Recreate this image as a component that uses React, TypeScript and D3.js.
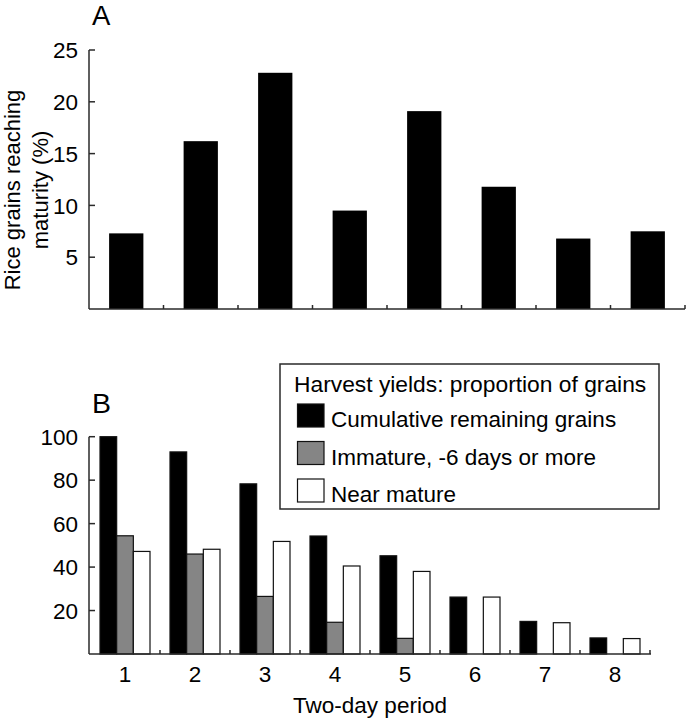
import React from "react";
import * as d3 from "d3";

const periods = ["1", "2", "3", "4", "5", "6", "7", "8"];
const maturityPct = [7.3, 16.2, 22.8, 9.5, 19.1, 11.8, 6.8, 7.5];
const topTicks = [5, 10, 15, 20, 25];

const seriesKeys = ["cumulative", "immature", "near"];
const seriesLabels = [
  "Cumulative remaining grains",
  "Immature, -6 days or more",
  "Near mature",
];
const seriesColors = ["#000000", "#858585", "#ffffff"];
const cumulative = [100, 93, 78.3, 54.3, 45.2, 26.2, 15.0, 7.4];
const immature = [54.4, 46, 26.5, 14.6, 7.2, 0, 0, 0];
const nearMature = [47.2, 48.2, 51.8, 40.5, 38.0, 26.2, 14.4, 7.1];
const bottomTicks = [20, 40, 60, 80, 100];
const legendTitle = "Harvest yields: proportion of grains";

const FONT = "'Liberation Sans', Arial, Helvetica, sans-serif";
const AX = "#2a2a2a";
const FS = 22.5;

export default function App() {
  // Panel A scales
  const xA = d3.scaleBand<string>().domain(periods).range([89, 685]).paddingInner(0.54).paddingOuter(0.27);
  const yA = d3.scaleLinear().domain([0, 25]).range([309, 50]);
  const stepA = xA.step();
  const startA = 89;

  // Panel B scales
  const xB = d3.scaleBand<string>().domain(periods).range([90, 650]).paddingInner(0.2857).paddingOuter(0.1429);
  const xInner = d3.scaleBand<string>().domain(seriesKeys).range([0, xB.bandwidth()]);
  const yB = d3.scaleLinear().domain([0, 100]).range([654, 436.7]);
  const stepB = xB.step();
  const startB = 90;
  const seriesData = [cumulative, immature, nearMature];

  return (
    <svg width={686} height={720} style={{ position: "absolute", left: 0, top: 0, background: "#fff" }} fontFamily={FONT}>
      <rect x={0} y={0} width={686} height={720} fill="#fff" />
      {/* Panel A */}
      <text x={92} y={25} fontSize={27.5} fill="#000">A</text>
      {periods.map((p, i) => (
        <rect key={"a" + p} x={xA(p)} y={yA(maturityPct[i])} width={xA.bandwidth()} height={yA(0) - yA(maturityPct[i])} fill="#000" />
      ))}
      <line x1={89} x2={89} y1={yA(25)} y2={yA(0)} stroke={AX} strokeWidth={1.5} />
      <line x1={89} x2={685} y1={yA(0)} y2={yA(0)} stroke={AX} strokeWidth={1.5} />
      {topTicks.map((t) => (
        <g key={"ta" + t}>
          <line x1={89} x2={95} y1={yA(t)} y2={yA(t)} stroke={AX} strokeWidth={1.5} />
          <text x={78} y={yA(t)} dy="0.36em" textAnchor="end" fontSize={FS} fill="#000">{t}</text>
        </g>
      ))}
      {periods.map((p, i) => (
        <line key={"xta" + p} x1={startA + (i + 1) * stepA} x2={startA + (i + 1) * stepA} y1={yA(0)} y2={yA(0) - 4} stroke={AX} strokeWidth={1.5} />
      ))}
      <g transform="translate(20,190) rotate(-90)">
        <text x={0} y={0} textAnchor="middle" fontSize={22} fill="#000">Rice grains reaching</text>
      </g>
      <g transform="translate(48,190) rotate(-90)">
        <text x={0} y={0} textAnchor="middle" fontSize={22} fill="#000">maturity (%)</text>
      </g>

      {/* Panel B */}
      <text x={92} y={413} fontSize={28.5} fill="#000">B</text>
      {periods.map((p, i) => (
        <g key={"b" + p} transform={`translate(${xB(p)},0)`}>
          {seriesKeys.map((k, j) =>
            seriesData[j][i] > 0 ? (
              <rect key={k} x={xInner(k)} y={yB(seriesData[j][i])} width={xInner.bandwidth()} height={yB(0) - yB(seriesData[j][i])} fill={seriesColors[j]} stroke="#111" strokeWidth={1.2} />
            ) : null
          )}
        </g>
      ))}
      <line x1={89} x2={89} y1={yB(100)} y2={yB(0)} stroke={AX} strokeWidth={1.5} />
      <line x1={89} x2={651} y1={yB(0)} y2={yB(0)} stroke={AX} strokeWidth={1.5} />
      {bottomTicks.map((t) => (
        <g key={"tb" + t}>
          <line x1={89} x2={95} y1={yB(t)} y2={yB(t)} stroke={AX} strokeWidth={1.5} />
          <text x={78} y={yB(t)} dy="0.36em" textAnchor="end" fontSize={FS} fill="#000">{t}</text>
        </g>
      ))}
      {periods.map((p, i) => (
        <g key={"xtb" + p}>
          <line x1={startB + (i + 1) * stepB} x2={startB + (i + 1) * stepB} y1={yB(0)} y2={yB(0) - 4} stroke={AX} strokeWidth={1.5} />
          <text x={(xB(p) as number) + xB.bandwidth() / 2} y={682} textAnchor="middle" fontSize={FS} fill="#000">{p}</text>
        </g>
      ))}
      <text x={370} y={713} textAnchor="middle" fontSize={FS} fill="#000">Two-day period</text>

      {/* Legend */}
      <rect x={280} y={364} width={379} height={145} fill="#fff" stroke={AX} strokeWidth={1.5} />
      <text x={294} y={392} fontSize={22.8} fill="#000">{legendTitle}</text>
      {seriesLabels.map((lab, j) => (
        <g key={"lg" + j} transform={`translate(0,${j * 37.5})`}>
          <rect x={297.5} y={404} width={26.5} height={23} fill={seriesColors[j]} stroke="#111" strokeWidth={1.2} />
          <text x={331} y={427} fontSize={FS} fill="#000">{lab}</text>
        </g>
      ))}
    </svg>
  );
}
